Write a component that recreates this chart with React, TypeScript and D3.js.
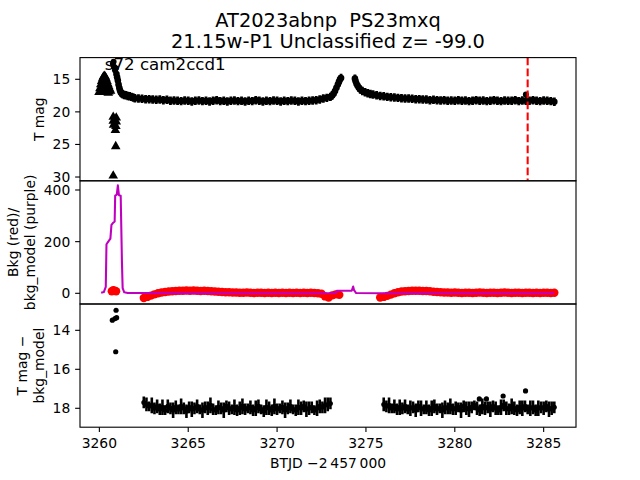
import React from "react";
import * as d3 from "d3";

const TITLE_LINES = ["AT2023abnp  PS23mxq", "21.15w-P1 Unclassified z= -99.0"];
const PANEL_NOTE = "s72 cam2ccd1";
const X_LABEL = "BTJD \u22122\u2009457\u2009000";
const TOP_LABEL = ["T mag"];
const MID_LABEL = ["Bkg (red)/", "bkg_model (purple)"];
const BOT_LABEL = ["T mag \u2212", "bkg_model"];

const X_TICKS = [3260, 3265, 3270, 3275, 3280, 3285];
const TOP_TICKS = [15, 20, 25, 30];
const MID_TICKS = [0, 200, 400];
const BOT_TICKS = [14, 16, 18];

const X_DOMAIN = [3258.91, 3286.82];
const TOP_DOMAIN = [11.67, 30.58];
const MID_DOMAIN = [-41.4, 435.6];
const BOT_DOMAIN = [12.65, 18.97];

// ---- top panel: T mag detections ----
const TOP_PEAK_POINTS: [number, number][] = [
  [3260.96, 14.2], [3261.0, 14.7], [3261.04, 15.2], [3261.08, 15.8], [3261.12, 16.3],
  [3261.16, 16.7], [3261.2, 17.0], [3261.26, 17.2], [3261.32, 17.3], [3261.4, 17.4],
  [3261.5, 17.45], [3261.6, 17.55], [3261.7, 17.6], [3261.8, 17.7], [3261.9, 17.8],
  [3273.1, 17.5], [3273.18, 17.2], [3273.26, 16.8], [3273.34, 16.3], [3273.42, 15.8],
  [3273.48, 15.4], [3273.54, 15.0], [3273.6, 14.8],
  [3274.38, 14.9], [3274.42, 15.3], [3274.47, 15.7], [3274.53, 16.0],
  [3274.6, 16.3], [3274.68, 16.55], [3274.8, 16.8], [3274.95, 17.0], [3275.1, 17.15],
  [3275.25, 17.25], [3275.4, 17.35], [3275.6, 17.45], [3275.8, 17.55], [3276.0, 17.6],
  [3276.2, 17.7],
];
// isolated bright points (plotted as plain dots)
const TOP_SINGLES: [number, number][] = [
  [3260.76, 12.6], [3260.8, 12.3], [3260.84, 13.1], [3260.88, 13.6], [3260.92, 13.3],
  [3284.0, 17.35],
];
const TOP_STEP = 0.2;
const TOP_SEG1_START = 3262.0;
const TOP_SEG1_MAG = [
  17.9, 17.95, 18.0, 18.05, 18.05, 18.1, 18.15, 18.1, 18.2, 18.15,
  18.3, 18.25, 18.3, 18.35, 18.25, 18.3, 18.4, 18.3, 18.25, 18.35,
  18.3, 18.4, 18.3, 18.2, 18.35, 18.3, 18.4, 18.3, 18.25, 18.35,
  18.3, 18.4, 18.3, 18.35, 18.2, 18.3, 18.4, 18.3, 18.35, 18.25,
  18.3, 18.4, 18.3, 18.35, 18.25, 18.3, 18.4, 18.3, 18.35, 18.3,
  18.25, 18.2, 18.1, 17.95, 17.85, 17.7,
];
const TOP_SEG2_START = 3276.4;
const TOP_SEG2_MAG = [
  17.75, 17.8, 17.85, 17.9, 17.95, 17.95, 18.0, 18.05, 18.05, 18.1,
  18.1, 18.2, 18.15, 18.2, 18.25, 18.2, 18.3, 18.25, 18.3, 18.2,
  18.3, 18.25, 18.35, 18.3, 18.2, 18.3, 18.25, 18.35, 18.3, 18.2,
  18.3, 18.35, 18.25, 18.3, 18.3, 18.2, 18.35, 18.25, 18.3, 18.3,
  18.2, 18.3, 18.35, 18.25, 18.3, 18.35, 18.45,
];
const TOP_ERR = 0.65;
// upper limits (triangles)
const TOP_LIMITS: [number, number][] = [
  [3259.98, 17.0], [3260.03, 16.4], [3260.08, 15.8], [3260.13, 15.3], [3260.18, 14.9],
  [3260.23, 14.6], [3260.28, 14.5], [3260.33, 14.6], [3260.38, 14.9], [3260.43, 15.3],
  [3260.48, 15.7], [3260.53, 16.1], [3260.58, 16.5], [3260.63, 16.8], [3260.06, 16.9],
  [3260.14, 16.5], [3260.22, 16.0], [3260.3, 15.6], [3260.38, 16.0], [3260.46, 16.5],
  [3260.54, 16.9], [3260.2, 17.0], [3260.35, 16.9], [3260.5, 17.1],
  [3260.78, 20.8], [3260.78, 21.4], [3260.8, 22.0], [3260.95, 20.9], [3260.95, 21.5],
  [3260.93, 22.2], [3260.9, 22.8], [3260.92, 25.3], [3260.78, 29.8],
];
const EVENT_TIME = 3284.1;

// ---- middle panel: background ----
const BKG_SPIKE: [number, number][] = [
  [3260.7, 8], [3260.78, 12], [3260.86, 10], [3260.94, 8],
];
const BKG_STEP = 0.2;
const BKG_SEG1_START = 3262.5;
const BKG_SEG1 = [
  -18, -14, -9, -4, 0, 3, 5, 7, 8, 9,
  10, 10, 11, 10, 11, 10, 9, 10, 9, 8,
  7, 6, 5, 4, 4, 3, 3, 2, 2, 3,
  2, 1, 2, 2, 1, 2, 1, 2, 1, 2,
  1, 2, 1, 2, 1, 2, 1, 2, 1, 0,
  -2, -12, -16, -8, -4, -6,
];
const BKG_SEG2_START = 3275.8;
const BKG_SEG2 = [
  -16, -14, -10, -5, 0, 4, 7, 8, 9, 10,
  10, 10, 9, 9, 8, 6, 5, 4, 3, 3,
  2, 3, 2, 1, 2, 2, 1, 2, 3, 2,
  1, 2, 2, 1, 2, 3, 2, 1, 2, 2,
  1, 2, 2, 1, 2, 1, 2, 2, 1, 2,
];
const BKG_MODEL: [number, number][] = [
  [3260.1, 2], [3260.25, 5], [3260.36, 25], [3260.4, 190], [3260.5, 200],
  [3260.62, 212], [3260.68, 265], [3260.76, 272], [3260.86, 278], [3260.89, 378],
  [3260.98, 382], [3261.04, 418], [3261.1, 380], [3261.2, 378], [3261.27, 120],
  [3261.31, 20], [3261.4, 4], [3261.6, 1], [3262.5, 1], [3265, 0], [3268, 0],
  [3272, 0], [3273.3, 1], [3273.36, 10], [3274.2, 10], [3274.28, 26], [3274.33, 12],
  [3274.45, 1], [3276, 0], [3280, 0], [3285.6, 0],
];

// ---- bottom panel: T mag - bkg_model ----
const DIFF_STEP = 0.15;
const DIFF_SEG1_START = 3262.5;
const DIFF_SEG1_MAG = [
  17.7, 17.8, 17.9, 17.85, 18.0, 17.9, 18.05, 17.95, 18.1, 17.9,
  18.0, 18.1, 17.95, 18.05, 17.9, 18.0, 18.15, 17.95, 18.05, 18.0,
  17.9, 18.05, 18.1, 17.95, 18.0, 17.85, 18.05, 18.1, 17.95, 18.0,
  18.1, 17.9, 18.0, 18.05, 17.95, 18.1, 18.0, 17.9, 18.05, 18.0,
  17.95, 18.1, 18.0, 17.9, 18.05, 18.15, 17.95, 18.0, 18.1, 17.9,
  18.05, 18.0, 17.95, 18.1, 18.0, 17.9, 18.05, 18.1, 17.95, 18.0,
  17.9, 18.05, 18.0, 17.95, 18.1, 18.0, 17.9, 17.95, 17.85, 17.8, 17.75,
];
const DIFF_SEG1_ERR = [
  0.3, 0.35, 0.25, 0.4, 0.3, 0.35, 0.3, 0.4, 0.25, 0.35,
  0.3, 0.4, 0.35, 0.25, 0.4, 0.3, 0.35, 0.3, 0.4, 0.3,
  0.35, 0.25, 0.4, 0.3, 0.35, 0.4, 0.3, 0.25, 0.35, 0.3,
  0.4, 0.3, 0.35, 0.25, 0.4, 0.3, 0.35, 0.4, 0.3, 0.25,
  0.35, 0.3, 0.4, 0.35, 0.25, 0.3, 0.4, 0.35, 0.3, 0.4,
  0.3, 0.25, 0.35, 0.4, 0.3, 0.35, 0.25, 0.3, 0.4, 0.35,
  0.3, 0.4, 0.35, 0.3, 0.25, 0.4, 0.35, 0.3, 0.4, 0.35, 0.3,
];
const DIFF_SEG2_START = 3276.0;
const DIFF_SEG2_MAG = [
  17.8, 17.9, 17.85, 18.0, 17.9, 18.05, 17.95, 18.0, 17.9, 18.05,
  18.0, 17.95, 18.1, 17.9, 18.0, 18.05, 17.95, 18.1, 18.0, 17.9,
  18.05, 18.0, 18.1, 17.95, 18.0, 17.9, 18.05, 18.0, 17.95, 18.1,
  17.9, 18.0, 18.05, 17.95, 17.85, 18.0, 18.1, 17.9, 18.0, 17.95,
  18.05, 17.9, 18.0, 18.1, 17.95, 17.85, 18.0, 18.05, 17.9, 18.0,
  18.1, 17.95, 18.0, 17.9, 18.05, 18.0, 17.95, 18.1, 18.0, 17.95,
  18.0, 17.9, 18.05, 18.0, 17.95,
];
const DIFF_SEG2_ERR = [
  0.35, 0.3, 0.4, 0.25, 0.35, 0.3, 0.4, 0.3, 0.35, 0.25,
  0.4, 0.3, 0.35, 0.3, 0.4, 0.25, 0.35, 0.3, 0.4, 0.35,
  0.3, 0.25, 0.4, 0.35, 0.3, 0.4, 0.3, 0.35, 0.25, 0.4,
  0.3, 0.35, 0.4, 0.3, 0.25, 0.35, 0.3, 0.4, 0.35, 0.3,
  0.4, 0.3, 0.35, 0.25, 0.4, 0.3, 0.35, 0.3, 0.4, 0.35,
  0.3, 0.35, 0.4, 0.3, 0.25, 0.4, 0.35, 0.3, 0.4, 0.3,
  0.35, 0.3, 0.4, 0.35, 0.3,
];
const DIFF_OUTLIERS: [number, number][] = [
  [3260.73, 13.48], [3260.88, 13.4], [3260.97, 13.35], [3260.94, 12.97], [3260.92, 15.1],
  [3281.38, 17.52], [3281.78, 17.52], [3282.72, 17.37], [3283.98, 17.11],
];

const FONT = "DejaVu Sans, Verdana, sans-serif";

function regular(start: number, step: number, vals: number[]): [number, number][] {
  return vals.map((v, i) => [start + i * step, v] as [number, number]);
}

export default function App() {
  const W = 640, H = 480;
  const L = 80, R = 576;
  const P = [57.6, 180.8, 304, 427.2];
  const x = d3.scaleLinear().domain(X_DOMAIN).range([L, R]);
  const yTop = d3.scaleLinear().domain(TOP_DOMAIN).range([P[0], P[1]]);
  const yMid = d3.scaleLinear().domain(MID_DOMAIN).range([P[2], P[1]]);
  const yBot = d3.scaleLinear().domain(BOT_DOMAIN).range([P[2], P[3]]);

  const topPts = [
    ...regular(TOP_SEG1_START, TOP_STEP, TOP_SEG1_MAG),
    ...regular(TOP_SEG2_START, TOP_STEP, TOP_SEG2_MAG),
    ...TOP_PEAK_POINTS,
  ];
  const bkgPts = [
    ...BKG_SPIKE,
    ...regular(BKG_SEG1_START, BKG_STEP, BKG_SEG1),
    ...regular(BKG_SEG2_START, BKG_STEP, BKG_SEG2),
  ];
  const diffPts = [
    ...DIFF_SEG1_MAG.map((m, i) => ({ t: DIFF_SEG1_START + i * DIFF_STEP, m, e: DIFF_SEG1_ERR[i] })),
    ...DIFF_SEG2_MAG.map((m, i) => ({ t: DIFF_SEG2_START + i * DIFF_STEP, m, e: DIFF_SEG2_ERR[i] })),
  ];

  const tri = d3.symbol().type(d3.symbolTriangle).size(40)();
  const modelLine = d3.line<[number, number]>().x((d) => x(d[0])).y((d) => yMid(d[1]))(BKG_MODEL) || "";

  const tickLen = 4.86;
  const yTickLabelX = L - tickLen - 4.86;
  const ax = { stroke: "#000", strokeWidth: 1.11 };

  const yLabel = (lines: string[], top: number, bottom: number, lastBaseline: number) => {
    const cy = (top + bottom) / 2;
    const n = lines.length;
    return lines.map((s, i) => {
      const bx = lastBaseline - (n - 1 - i) * 16.67;
      return (
        <text key={s} transform={`translate(${bx},${cy}) rotate(-90)`} textAnchor="middle" fontSize={13.89} fontFamily={FONT}>
          {s}
        </text>
      );
    });
  };

  return (
    <svg width={W} height={H} style={{ position: "absolute", left: 0, top: 0, background: "#fff" }}>
      <defs>
        <clipPath id="c1"><rect x={L} y={P[0]} width={R - L} height={P[1] - P[0]} /></clipPath>
        <clipPath id="c2"><rect x={L} y={P[1]} width={R - L} height={P[2] - P[1]} /></clipPath>
        <clipPath id="c3"><rect x={L} y={P[2]} width={R - L} height={P[3] - P[2]} /></clipPath>
      </defs>
      <rect width={W} height={H} fill="#fff" />

      {/* title */}
      {TITLE_LINES.map((s, i) => (
        <text key={s} x={(L + R) / 2} y={26.7 + i * 21.6} textAnchor="middle" fontSize={19.4} fontFamily={FONT}
          xmlSpace="preserve" style={{ whiteSpace: "pre" }}>{s}</text>
      ))}

      {/* top panel */}
      <g clipPath="url(#c1)">
        {topPts.map(([t, m], i) => (
          <line key={"te" + i} x1={x(t)} x2={x(t)} y1={yTop(m - TOP_ERR)} y2={yTop(m + TOP_ERR)} stroke="#000" strokeWidth={2.8} />
        ))}
        {topPts.map(([t, m], i) => (
          <circle key={"tp" + i} cx={x(t)} cy={yTop(m)} r={3.3} fill="#000" />
        ))}
        {TOP_SINGLES.map(([t, m], i) => (
          <circle key={"ts" + i} cx={x(t)} cy={yTop(m)} r={3} fill="#000" />
        ))}
        {TOP_LIMITS.map(([t, m], i) => (
          <path key={"tl" + i} d={tri} transform={`translate(${x(t)},${yTop(m)})`} fill="#000" />
        ))}
        <line x1={x(EVENT_TIME)} x2={x(EVENT_TIME)} y1={P[0]} y2={P[1]} stroke="#ff0000" strokeWidth={2.08} strokeDasharray="7.7,3.3" />
      </g>
      <text x={L + 0.05 * (R - L)} y={P[0] + 0.1 * (P[1] - P[0])} fontSize={16.67} fontFamily={FONT}>{PANEL_NOTE}</text>

      {/* middle panel */}
      <g clipPath="url(#c2)">
        {bkgPts.map(([t, v], i) => (
          <circle key={"b" + i} cx={x(t)} cy={yMid(v)} r={4.2} fill="#ff0000" />
        ))}
        <path d={modelLine} fill="none" stroke="#bf00bf" strokeWidth={2.08} strokeLinejoin="round" />
      </g>

      {/* bottom panel */}
      <g clipPath="url(#c3)">
        {diffPts.map((d, i) => (
          <line key={"de" + i} x1={x(d.t)} x2={x(d.t)} y1={yBot(d.m - d.e)} y2={yBot(d.m + d.e)} stroke="#000" strokeWidth={2.6} />
        ))}
        {diffPts.map((d, i) => (
          <circle key={"dp" + i} cx={x(d.t)} cy={yBot(d.m)} r={2.5} fill="#000" />
        ))}
        {DIFF_OUTLIERS.map(([t, m], i) => (
          <circle key={"do" + i} cx={x(t)} cy={yBot(m)} r={2.6} fill="#000" />
        ))}
      </g>

      {/* spines */}
      <rect x={L} y={P[0]} width={R - L} height={P[1] - P[0]} fill="none" {...ax} />
      <rect x={L} y={P[1]} width={R - L} height={P[2] - P[1]} fill="none" {...ax} />
      <rect x={L} y={P[2]} width={R - L} height={P[3] - P[2]} fill="none" {...ax} />

      {/* y ticks */}
      {[
        { ticks: TOP_TICKS, s: yTop },
        { ticks: MID_TICKS, s: yMid },
        { ticks: BOT_TICKS, s: yBot },
      ].map((g, gi) =>
        g.ticks.map((tv) => (
          <g key={gi + "-" + tv}>
            <line x1={L - tickLen} x2={L} y1={g.s(tv)} y2={g.s(tv)} {...ax} />
            <text x={yTickLabelX} y={g.s(tv) + 5} textAnchor="end" fontSize={13.89} fontFamily={FONT}>{String(tv)}</text>
          </g>
        ))
      )}

      {/* x ticks */}
      {X_TICKS.map((tv) => (
        <g key={"x" + tv}>
          <line x1={x(tv)} x2={x(tv)} y1={P[3]} y2={P[3] + tickLen} {...ax} />
          <text x={x(tv)} y={448} textAnchor="middle" fontSize={13.89} fontFamily={FONT}>{String(tv)}</text>
        </g>
      ))}
      <text x={(L + R) / 2} y={467.5} textAnchor="middle" fontSize={13.89} fontFamily={FONT}>{X_LABEL}</text>

      {/* y labels */}
      {yLabel(TOP_LABEL, P[0], P[1], 44)}
      {yLabel(MID_LABEL, P[1], P[2], 35)}
      {yLabel(BOT_LABEL, P[2], P[3], 44)}
    </svg>
  );
}
